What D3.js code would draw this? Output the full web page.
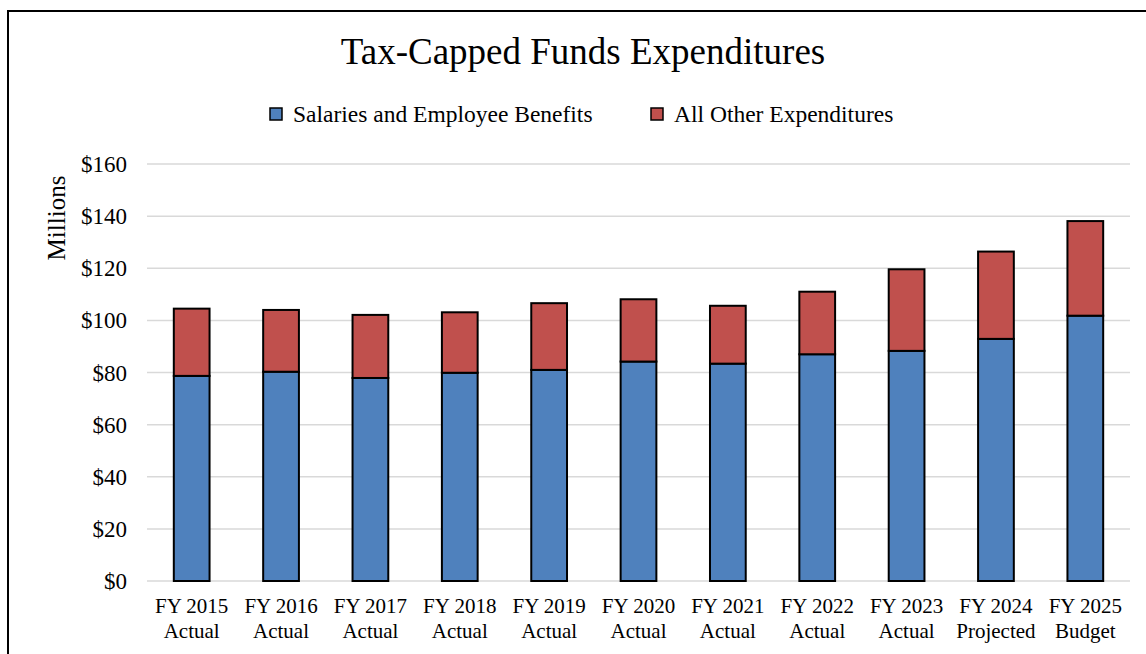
<!DOCTYPE html>
<html><head><meta charset="utf-8">
<script src="https://cdn.jsdelivr.net/npm/d3@7"></script>
<style>body{margin:0;background:#fff}svg{display:block}text{font-family:"Liberation Serif","Times New Roman",serif;fill:#000}</style>
</head><body><svg id="c" width="1146" height="654"></svg>
<script>
const categories = ["FY 2015|Actual","FY 2016|Actual","FY 2017|Actual","FY 2018|Actual","FY 2019|Actual","FY 2020|Actual","FY 2021|Actual","FY 2022|Actual","FY 2023|Actual","FY 2024|Projected","FY 2025|Budget"];
const salaries = [78.7,80.3,77.9,79.9,81.0,84.2,83.4,87.0,88.3,92.9,101.8];
const other = [25.8,23.7,24.2,23.2,25.6,23.9,22.2,24.0,31.3,33.5,36.3];
const seriesNames = ["Salaries and Employee Benefits","All Other Expenditures"];
const colors = ["#4F81BD","#C0504D"];
const yTicks = [0,20,40,60,80,100,120,140,160];

const svg = d3.select("#c");
svg.append("rect").attr("x",8).attr("y",11).attr("width",1150).attr("height",660).attr("fill","none").attr("stroke","#000").attr("stroke-width",2);

const L=147,R=1130,T=164,B=581;
const x = d3.scaleBand().domain(categories).range([L,R]).paddingInner(0.6).paddingOuter(0.3);
const y = d3.scaleLinear().domain([0,160]).range([B,T]);

const g = svg.append("g");
g.selectAll("line.grid").data(yTicks).join("line").attr("class","grid")
 .attr("x1",L).attr("x2",R).attr("y1",d=>y(d)).attr("y2",d=>y(d)).attr("stroke","#d9d9d9").attr("stroke-width",1.5);
g.selectAll("text.yt").data(yTicks).join("text").attr("class","yt")
 .attr("x",127).attr("y",d=>y(d)).attr("dy","0.35em").attr("text-anchor","end").attr("font-size",23).text(d=>"$"+d);

const data = categories.map((c,i)=>({c,s:salaries[i],o:other[i]}));
const stack = d3.stack().keys(["s","o"])(data);
stack.forEach((layer,k)=>{
  g.selectAll("rect.l"+k).data(layer).join("rect").attr("class","l"+k)
   .attr("x",d=>x(d.data.c)).attr("width",x.bandwidth())
   .attr("y",d=>y(d[1])).attr("height",d=>y(d[0])-y(d[1]))
   .attr("fill",colors[k]).attr("stroke","#000").attr("stroke-width",2);
});

const xl = g.selectAll("text.xl").data(categories).join("text").attr("class","xl")
 .attr("text-anchor","middle").attr("font-size",21);
xl.each(function(d){
  const t=d3.select(this), parts=d.split("|"), cx=x(d)+x.bandwidth()/2;
  t.append("tspan").attr("x",cx).attr("y",613).text(parts[0]);
  t.append("tspan").attr("x",cx).attr("y",638).text(parts[1]);
});

svg.append("text").attr("transform","translate(65,218) rotate(-90)").attr("text-anchor","middle").attr("font-size",25).text("Millions");
svg.append("text").attr("x",583).attr("y",64).attr("text-anchor","middle").attr("font-size",37).text("Tax-Capped Funds Expenditures");

const legX=[270,651];
seriesNames.forEach((n,i)=>{
  svg.append("rect").attr("x",legX[i]).attr("y",108).attr("width",12).attr("height",12).attr("fill",colors[i]).attr("stroke","#000").attr("stroke-width",1.5);
  svg.append("text").attr("x",legX[i]+23).attr("y",122).attr("font-size",23.5).text(n);
});
</script></body></html>
